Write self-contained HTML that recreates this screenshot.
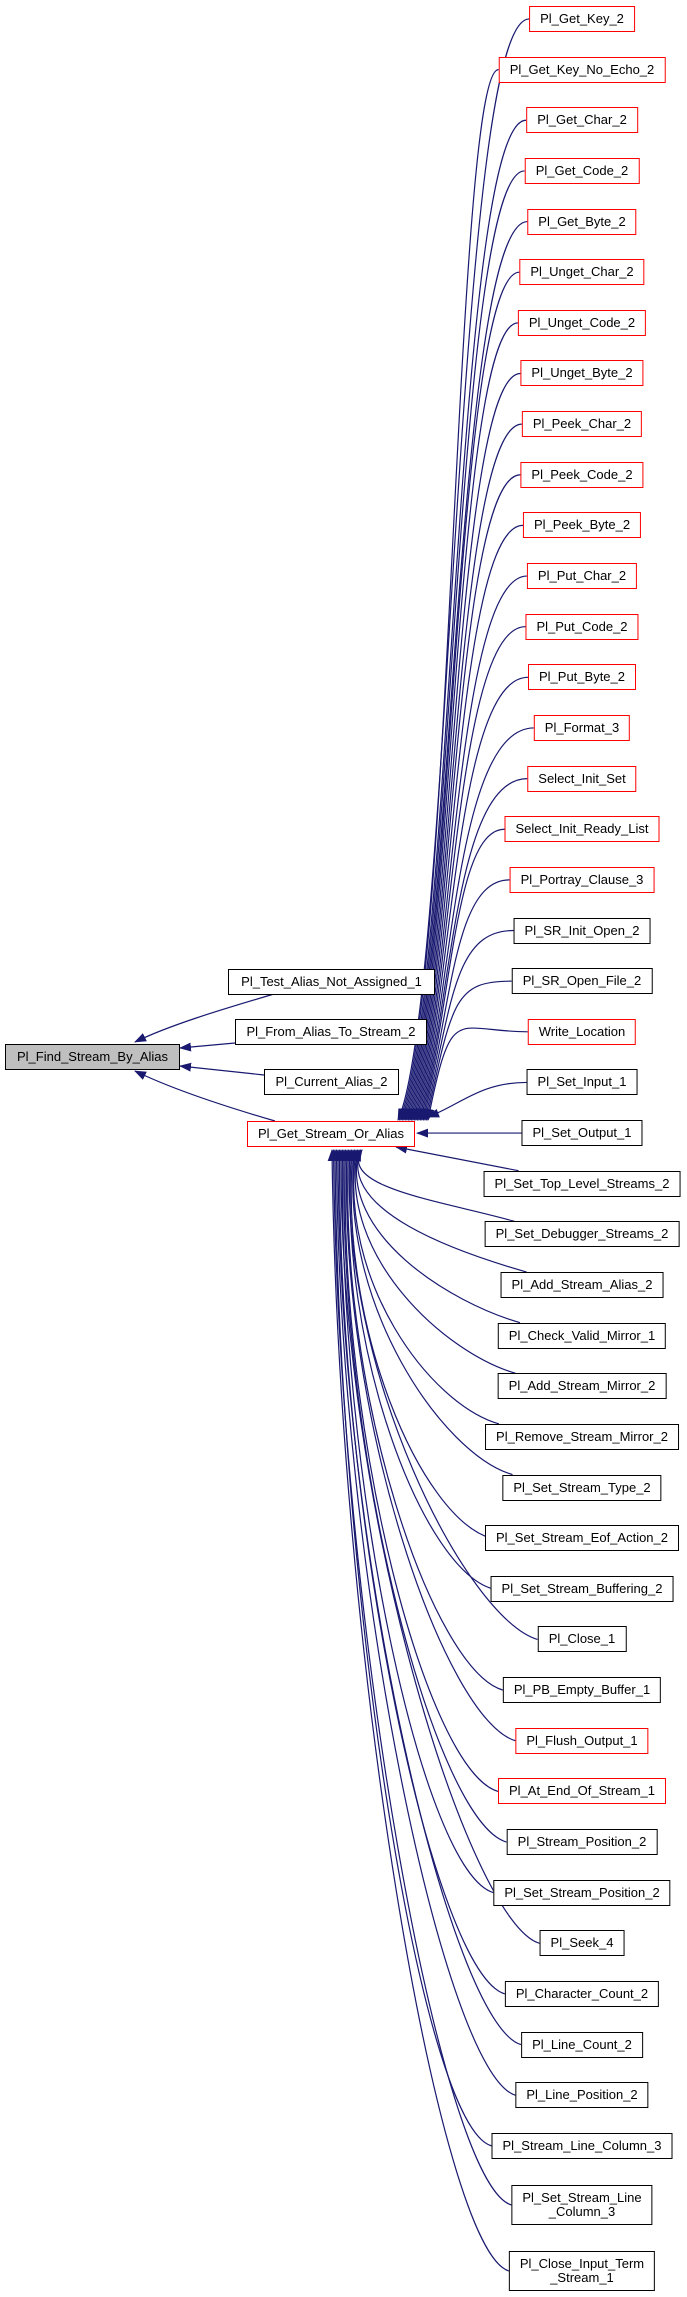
<!DOCTYPE html>
<html><head><meta charset="utf-8"><style>
body{margin:0;background:#fff;width:687px;height:2297px;position:relative;overflow:hidden;font-family:"Liberation Sans",Arial,sans-serif;}
.n{position:absolute;box-sizing:border-box;border:1.5px solid #000;background:#fff;font-size:13px;line-height:23px;height:26px;text-align:center;white-space:nowrap;color:#000}
.r{border-color:#f00}
.c{left:582px;transform:translateX(-50%);padding:0 10px}
.d{height:40px;line-height:14px;padding-top:5px}
svg{position:absolute;left:0;top:0}
</style></head><body>
<svg id="s" width="687" height="2297"><defs><marker id="a" markerWidth="12" markerHeight="9" refX="11" refY="4.5" orient="auto" markerUnits="userSpaceOnUse"><path d="M0,0 L12,4.5 L0,9 z" fill="#191970"/></marker></defs></svg>
<div class="n" style="left:5px;top:1044px;width:175px;background:#bfbfbf">Pl_Find_Stream_By_Alias</div>
<div class="n" style="left:228px;top:969px;width:207px">Pl_Test_Alias_Not_Assigned_1</div>
<div class="n" style="left:235px;top:1019px;width:192px">Pl_From_Alias_To_Stream_2</div>
<div class="n" style="left:264px;top:1069px;width:135px">Pl_Current_Alias_2</div>
<div class="n r" id="g" style="left:247px;top:1121px;width:168px">Pl_Get_Stream_Or_Alias</div>
<div id="col">
<div class="n c r">Pl_Get_Key_2</div>
<div class="n c r">Pl_Get_Key_No_Echo_2</div>
<div class="n c r">Pl_Get_Char_2</div>
<div class="n c r">Pl_Get_Code_2</div>
<div class="n c r">Pl_Get_Byte_2</div>
<div class="n c r">Pl_Unget_Char_2</div>
<div class="n c r">Pl_Unget_Code_2</div>
<div class="n c r">Pl_Unget_Byte_2</div>
<div class="n c r">Pl_Peek_Char_2</div>
<div class="n c r">Pl_Peek_Code_2</div>
<div class="n c r">Pl_Peek_Byte_2</div>
<div class="n c r">Pl_Put_Char_2</div>
<div class="n c r">Pl_Put_Code_2</div>
<div class="n c r">Pl_Put_Byte_2</div>
<div class="n c r">Pl_Format_3</div>
<div class="n c r">Select_Init_Set</div>
<div class="n c r">Select_Init_Ready_List</div>
<div class="n c r">Pl_Portray_Clause_3</div>
<div class="n c">Pl_SR_Init_Open_2</div>
<div class="n c">Pl_SR_Open_File_2</div>
<div class="n c r">Write_Location</div>
<div class="n c">Pl_Set_Input_1</div>
<div class="n c">Pl_Set_Output_1</div>
<div class="n c">Pl_Set_Top_Level_Streams_2</div>
<div class="n c">Pl_Set_Debugger_Streams_2</div>
<div class="n c">Pl_Add_Stream_Alias_2</div>
<div class="n c">Pl_Check_Valid_Mirror_1</div>
<div class="n c">Pl_Add_Stream_Mirror_2</div>
<div class="n c">Pl_Remove_Stream_Mirror_2</div>
<div class="n c">Pl_Set_Stream_Type_2</div>
<div class="n c">Pl_Set_Stream_Eof_Action_2</div>
<div class="n c">Pl_Set_Stream_Buffering_2</div>
<div class="n c">Pl_Close_1</div>
<div class="n c">Pl_PB_Empty_Buffer_1</div>
<div class="n c r">Pl_Flush_Output_1</div>
<div class="n c r">Pl_At_End_Of_Stream_1</div>
<div class="n c">Pl_Stream_Position_2</div>
<div class="n c">Pl_Set_Stream_Position_2</div>
<div class="n c">Pl_Seek_4</div>
<div class="n c">Pl_Character_Count_2</div>
<div class="n c">Pl_Line_Count_2</div>
<div class="n c">Pl_Line_Position_2</div>
<div class="n c">Pl_Stream_Line_Column_3</div>
<div class="n c d">Pl_Set_Stream_Line<br>_Column_3</div>
<div class="n c d">Pl_Close_Input_Term<br>_Stream_1</div>
</div>
<script>
var s=document.getElementById('s'),ns='http://www.w3.org/2000/svg';
function p(d){var e=document.createElementNS(ns,'path');e.setAttribute('d',d);e.setAttribute('fill','none');e.setAttribute('stroke','#191970');e.setAttribute('stroke-width','1.2');e.setAttribute('marker-end','url(#a)');s.appendChild(e);}
var nodes=document.querySelectorAll('#col .n');
for(var i=0;i<nodes.length;i++){
 var n=nodes[i],yc;
 if(i<43){yc=19+i*50.64;n.style.top=(yc-13)+'px';}
 else if(i==43){yc=2205;n.style.top='2185px';}
 else {yc=2271;n.style.top='2251px';}
 var xl=582-n.offsetWidth/2;
 if(i<=20){var tx=398+i*1.5;p('M'+xl+','+yc+' C455,'+yc+' 452,1000 '+tx+',1120');}
 else if(i==21){p('M'+xl+','+yc+' C480,'+yc+' 460,1105 428,1117');}
 else if(i==22){p('M'+xl+','+yc+' L417,'+yc);}
 else if(i==23){p('M'+(xl+35)+','+(yc-13)+' L396,1147');}
 else{var k=i-24;var tx=362-k*1.5;var sx=xl+Math.max(0,30-k*4),sy=yc-(k<6?13:0);
  p('M'+sx+','+sy+' C'+(sx-70)+','+(sy-20)+' 338,'+(1150+(yc-1150)*0.45)+' '+tx+',1150');}
}
p('M274,994 C220,1010 170,1025 135,1042');
p('M235,1043 L180,1048');
p('M264,1075 L180,1066');
p('M275,1121 C220,1105 170,1088 135,1071');
</script>
</body></html>
